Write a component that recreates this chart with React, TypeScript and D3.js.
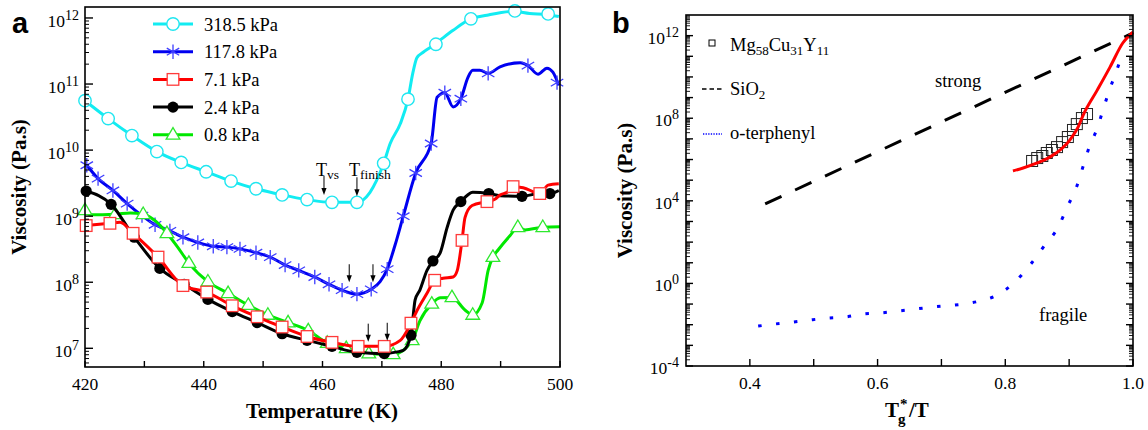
import React from 'react';
import * as d3 from 'd3';

type Pt = [number, number];

// ---------- Panel a : viscosity vs temperature (T in K, viscosity in Pa.s) ----------
const legendA = ['318.5 kPa', '117.8 kPa', '7.1 kPa', '2.4 kPa', '0.8 kPa'];

const cyanLine: Pt[] = [
  [420, 5.6e10], [423.9, 3.0e10], [427.9, 1.66e10], [432.1, 9.5e9], [436.2, 6.5e9], [440.4, 4.7e9],
  [444.6, 3.4e9], [448.8, 2.6e9], [453.2, 2.1e9], [457.4, 1.78e9], [461.6, 1.62e9], [465.8, 1.62e9],
  [468.0, 2.3e9], [470.3, 6.3e9], [471.4, 1.26e10], [473.1, 2.5e10], [474.4, 5.9e10], [475.2, 1.45e11],
  [475.9, 2.5e11], [476.9, 3.0e11], [478.6, 3.8e11], [480.3, 5.0e11], [482.0, 6.5e11], [484.8, 9.5e11],
  [487.7, 1.1e12], [492.1, 1.26e12], [494.9, 1.17e12], [498.0, 1.12e12], [499.8, 1.05e12],
];
const cyanMarks: Pt[] = [
  [420, 5.6e10], [423.9, 3.0e10], [427.9, 1.66e10], [432.1, 9.5e9], [436.2, 6.5e9], [440.4, 4.7e9],
  [444.6, 3.4e9], [448.8, 2.6e9], [453.2, 2.1e9], [457.4, 1.78e9], [461.6, 1.62e9], [465.8, 1.62e9],
  [470.3, 6.3e9], [474.4, 5.9e10], [479.1, 4.0e11], [485.0, 9.7e11], [492.4, 1.28e12], [498.0, 1.15e12],
];

const blueMarks: Pt[] = [
  [420.3, 5.9e9], [422.2, 3.7e9], [424.7, 2.45e9], [427.1, 1.55e9], [429.6, 1.02e9], [431.8, 7.4e8],
  [434.3, 6.0e8], [436.5, 4.8e8], [439.0, 4.0e8], [441.6, 3.5e8], [443.9, 3.4e8], [446.1, 3.2e8],
  [448.8, 2.8e8], [451.2, 2.4e8], [453.7, 1.82e8], [456.0, 1.51e8], [458.7, 1.2e8], [461.1, 9.3e7],
  [463.3, 7.6e7], [465.8, 6.6e7], [468.2, 7.8e7], [470.9, 1.58e8], [473.6, 1.0e9], [475.7, 4.5e9],
  [478.3, 1.26e10], [480.6, 7.4e10], [483.3, 6.0e10], [487.9, 1.45e11], [494.6, 1.9e11], [499.5, 1.05e11],
];
const blueLine: Pt[] = [
  [420.3, 5.9e9], [422.2, 3.7e9], [424.7, 2.45e9], [427.1, 1.55e9], [429.6, 1.02e9], [431.8, 7.4e8],
  [434.3, 6.0e8], [436.5, 4.8e8], [439.0, 4.0e8], [441.6, 3.5e8], [443.9, 3.4e8], [446.1, 3.2e8],
  [448.8, 2.8e8], [451.2, 2.4e8], [453.7, 1.82e8], [456.0, 1.51e8], [458.7, 1.2e8], [461.1, 9.3e7],
  [463.3, 7.6e7], [465.8, 6.6e7], [468.2, 7.8e7], [469.7, 1.02e8], [470.9, 1.58e8], [472.2, 3.6e8],
  [473.6, 1.0e9], [475.7, 4.5e9], [478.3, 1.26e10], [479.3, 6.3e10], [480.6, 7.4e10], [482.0, 4.5e10],
  [483.3, 6.0e10], [484.5, 1.26e11], [485.3, 1.62e11], [486.5, 1.62e11], [487.9, 1.45e11], [489.9, 1.82e11],
  [493.3, 2.1e11], [494.6, 1.9e11], [496.3, 1.41e11], [497.8, 1.74e11], [498.8, 1.51e11], [499.8, 9.5e10],
];

const redMarks: Pt[] = [
  [420.2, 7.2e8], [424.2, 7.8e8], [428.1, 5.5e8], [432.3, 2.4e8], [436.5, 8.9e7], [440.5, 7.1e7],
  [444.8, 4.4e7], [449.0, 3.0e7], [453.2, 2.1e7], [457.4, 1.51e7], [461.6, 1.23e7], [466.0, 1.07e7],
  [470.4, 1.07e7], [474.9, 2.4e7], [478.9, 1.07e8], [483.5, 4.3e8], [487.7, 1.66e9], [492.1, 2.8e9],
  [496.6, 2.2e9],
];
const redLine: Pt[] = [
  [420.2, 7.2e8], [424.2, 7.8e8], [425.9, 8.1e8], [428.1, 5.5e8], [432.3, 2.4e8], [436.5, 8.9e7],
  [440.5, 7.1e7], [444.8, 4.4e7], [449.0, 3.0e7], [453.2, 2.1e7], [457.4, 1.51e7], [461.6, 1.23e7],
  [466.0, 1.07e7], [470.4, 1.07e7], [473.1, 1.32e7], [474.9, 2.4e7], [475.9, 3.7e7], [477.6, 6.8e7],
  [478.9, 1.07e8], [480.3, 1.15e8], [482.0, 1.2e8], [482.7, 1.51e8], [483.5, 4.3e8], [484.0, 9.5e8],
  [485.2, 1.45e9], [487.7, 1.66e9], [489.1, 1.82e9], [489.9, 2.1e9], [491.1, 2.3e9], [492.1, 2.8e9],
  [493.8, 2.7e9], [496.6, 2.2e9], [498.0, 2.95e9], [499.8, 3.1e9],
];

const blackMarks: Pt[] = [
  [420.2, 2.4e9], [424.4, 1.51e9], [428.3, 4.8e8], [432.6, 1.62e8], [436.7, 9.3e7], [440.7, 5.5e7],
  [444.8, 3.6e7], [449.0, 2.45e7], [453.2, 1.66e7], [457.4, 1.32e7], [461.6, 1.07e7], [465.8, 8.7e6],
  [470.4, 8.3e6], [474.9, 1.58e7], [478.6, 2.1e8], [483.3, 1.66e9], [488.0, 2.2e9], [493.6, 2.0e9],
  [498.3, 2.2e9],
];
const blackLine: Pt[] = [
  [420.2, 2.4e9], [424.4, 1.51e9], [428.3, 4.8e8], [432.6, 1.62e8], [436.7, 9.3e7], [440.7, 5.5e7],
  [444.8, 3.6e7], [449.0, 2.45e7], [453.2, 1.66e7], [457.4, 1.32e7], [461.6, 1.07e7], [465.8, 8.7e6],
  [470.4, 8.3e6], [471.4, 8.5e6], [473.6, 9.3e6], [474.9, 1.58e7], [475.6, 5.4e7], [476.4, 7.6e7],
  [477.6, 1.51e8], [478.6, 2.1e8], [479.8, 2.75e8], [481.0, 6.8e8], [482.0, 1.23e9], [483.3, 1.66e9],
  [484.3, 2.04e9], [485.3, 2.3e9], [488.0, 2.2e9], [489.9, 2.04e9], [493.6, 2.0e9], [496.6, 2.2e9],
  [498.3, 2.2e9], [499.8, 2.45e9],
];

const greenMarks: Pt[] = [
  [420.0, 1.23e9], [425.1, 1.07e9], [429.8, 1.07e9], [433.8, 5.5e8], [437.5, 1.95e8], [440.7, 1.02e8],
  [444.1, 6.8e7], [447.5, 4.5e7], [450.8, 3.2e7], [454.2, 2.45e7], [457.6, 1.86e7], [460.8, 1.2e7],
  [464.0, 1.0e7], [467.8, 8.3e6], [471.9, 8.1e6], [475.1, 1.32e7], [478.4, 4.7e7], [481.8, 5.9e7],
  [485.3, 3.2e7], [488.7, 2.4e8], [492.9, 6.8e8], [497.1, 6.8e8],
];
const greenLine: Pt[] = [
  [420.0, 1.23e9], [420.8, 1.05e9], [425.1, 1.07e9], [427.6, 1.12e9], [429.8, 1.07e9], [432.1, 8.1e8],
  [433.8, 5.5e8], [435.6, 3.4e8], [437.5, 1.95e8], [440.7, 1.02e8], [444.1, 6.8e7], [447.5, 4.5e7],
  [450.8, 3.2e7], [454.2, 2.45e7], [457.6, 1.86e7], [460.8, 1.2e7], [464.0, 1.0e7], [467.8, 8.3e6],
  [471.9, 8.1e6], [475.1, 1.32e7], [476.4, 2.6e7], [478.4, 4.7e7], [479.8, 5.8e7], [481.8, 5.9e7],
  [484.0, 3.8e7], [485.3, 3.2e7], [486.9, 4.9e7], [487.9, 1.51e8], [488.7, 2.4e8], [489.6, 3.1e8],
  [491.6, 5.1e8], [492.9, 6.8e8], [494.1, 6.2e8], [497.1, 6.8e8], [500.0, 6.9e8],
];

const xTicksA = [420, 430, 440, 450, 460, 470, 480, 490, 500];
const xLabelsA = [420, 440, 460, 480, 500];
const yLabelsA = [7, 8, 9, 10, 11, 12];

// arrows: [T, viscosity at arrow tip]
const arrowsA: Pt[] = [
  [460.25, 2.1e9], [465.8, 2.0e9],
  [464.5, 1.0e8], [468.5, 1.0e8],
  [467.7, 1.26e7], [470.9, 1.3e7],
];

// ---------- Panel b : Angell plot ----------
const sio2Line: Pt[] = [[0.424, 7.1e3], [1.0, 1.35e12]];
const mgFit: Pt[] = [
  [0.812, 2.8e5], [0.828, 3.9e5], [0.85, 6.8e5], [0.87, 1.32e6], [0.901, 8.8e6], [0.914, 3.7e7],
  [0.922, 1.43e8], [0.944, 2.3e9], [0.964, 3.0e10], [0.984, 4.4e11], [1.0, 1.5e12],
];
const mgData: Pt[] = [
  [0.842, 8.5e5], [0.85, 1.18e6], [0.858, 1.48e6], [0.865, 2.07e6], [0.873, 2.9e6], [0.881, 4.0e6],
  [0.889, 7.0e6], [0.898, 1.23e7], [0.906, 2.7e7], [0.912, 5.2e7], [0.92, 1.02e8], [0.928, 1.6e8],
];
const oTerphenyl: Pt[] = [
  [0.413, 8.6e-3], [0.439, 1.08e-2], [0.468, 1.35e-2], [0.494, 1.69e-2], [0.522, 2.1e-2], [0.551, 2.4e-2],
  [0.577, 3.3e-2], [0.605, 3.7e-2], [0.632, 4.6e-2], [0.66, 5.8e-2], [0.687, 7.2e-2], [0.734, 0.1],
  [0.76, 0.14], [0.787, 0.27], [0.815, 1.17], [0.84, 8.7], [0.862, 72], [0.883, 540], [0.897, 5.0e3],
  [0.911, 4.2e4], [0.922, 4.8e5], [0.931, 3.6e6], [0.944, 3.3e7], [0.953, 2.5e8], [0.962, 1.86e9],
  [0.973, 1.55e10], [0.984, 1.44e11],
];
const xTicksB = [0.4, 0.5, 0.6, 0.7, 0.8, 0.9, 1.0];
const xLabelsB = ['0.4', '0.6', '0.8', '1.0'];
const yLabelsB = [-4, 0, 4, 8, 12];

// ---------- layout ----------
const W = 1148, H = 430;
const A = { left: 85, right: 560, top: 7, bottom: 367 };
const B = { left: 686, right: 1133, top: 15, bottom: 366 };
const SERIF = "'Liberation Serif', 'Times New Roman', 'DejaVu Serif', serif";
const SANS = "'Liberation Sans', Arial, 'DejaVu Sans', sans-serif";

const xA = d3.scaleLinear().domain([420, 500]).range([A.left, A.right]);
const yA = d3.scaleLog().domain([Math.pow(10, 6.717), Math.pow(10, 12.166)]).range([A.bottom, A.top]);
const xB = d3.scaleLinear().domain([0.3, 1.0]).range([B.left, B.right]);
const yB = d3.scaleLog().domain([1e-4, 1e13]).range([B.bottom, B.top]);

const C = { cyan: '#12ecf2', blue: '#0000f0', red: '#ff0000', black: '#000000', green: '#00e800' };

function lineA(data: Pt[]) {
  return d3.line<Pt>().x(d => xA(d[0])).y(d => yA(d[1])).curve(d3.curveMonotoneX)(data) || '';
}
function lineB(data: Pt[], curve: any = d3.curveMonotoneX) {
  return d3.line<Pt>().x(d => xB(d[0])).y(d => yB(d[1])).curve(curve)(data) || '';
}

type MarkKind = 'circle' | 'star' | 'square' | 'dot' | 'tri';
function Marker({ kind, x, y }: { kind: MarkKind; x: number; y: number }) {
  if (kind === 'circle') return <circle cx={x} cy={y} r={6.2} fill="#fff" stroke="#20e6f0" strokeWidth={1.4} />;
  if (kind === 'dot') return <circle cx={x} cy={y} r={5.6} fill="#000" />;
  if (kind === 'square') return <rect x={x - 5.8} y={y - 5.8} width={11.6} height={11.6} fill="#fff" stroke="#ff3a3a" strokeWidth={1.3} />;
  if (kind === 'tri') {
    const s = 7.2;
    return <path d={`M${x},${y - s}L${x + s * 0.95},${y + s * 0.6}L${x - s * 0.95},${y + s * 0.6}Z`} fill="#fff" stroke="#2ee82e" strokeWidth={1.3} />;
  }
  const r = 7.2;
  const c = Math.cos(Math.PI / 6) * r, s = Math.sin(Math.PI / 6) * r;
  return <path d={`M${x},${y - r}L${x},${y + r}M${x - c},${y - s}L${x + c},${y + s}M${x - c},${y + s}L${x + c},${y - s}`} stroke="#3d3dff" strokeWidth={1.3} fill="none" />;
}

const seriesA = [
  { name: legendA[0], line: cyanLine, marks: cyanMarks, color: C.cyan, kind: 'circle' as MarkKind },
  { name: legendA[1], line: blueLine, marks: blueMarks, color: C.blue, kind: 'star' as MarkKind },
  { name: legendA[2], line: redLine, marks: redMarks, color: C.red, kind: 'square' as MarkKind },
  { name: legendA[3], line: blackLine, marks: blackMarks, color: C.black, kind: 'dot' as MarkKind },
  { name: legendA[4], line: greenLine, marks: greenMarks, color: C.green, kind: 'tri' as MarkKind },
];
const drawOrder = [0, 1, 4, 3, 2];

function logTicks(lo: number, hi: number) {
  const major: number[] = [];
  const minor: number[] = [];
  for (let e = lo; e <= hi; e++) {
    major.push(Math.pow(10, e));
    for (let m = 2; m <= 9; m++) minor.push(m * Math.pow(10, e));
  }
  return { major, minor };
}

function Arrow({ x, yTip, len = 18 }: { x: number; yTip: number; len?: number }) {
  return (
    <g>
      <line x1={x} x2={x} y1={yTip - len} y2={yTip - 5} stroke="#000" strokeWidth={1} />
      <path d={`M${x - 2.6},${yTip - 7}L${x + 2.6},${yTip - 7}L${x},${yTip}Z`} fill="#000" />
    </g>
  );
}

const serifStyle = { fontFamily: SERIF };
const sansStyle = { fontFamily: SANS };
const TICK_FS = 17.5;
const EXP_FS = 14;
const TXT_FS = 18.5;
const AXIS_FS = 21;

export default function App() {
  const ytA = logTicks(6, 12);
  const ytB = logTicks(-4, 12);
  const inA = (v: number) => yA(v) <= A.bottom + 0.1 && yA(v) >= A.top - 0.1;
  const inB = (v: number) => yB(v) <= B.bottom + 0.1 && yB(v) >= B.top - 0.1;

  return (
    <svg width={W} height={H} style={{ position: 'absolute', left: 0, top: 0, background: '#fff', fontFamily: SERIF }}>
      {/* ================= Panel a ================= */}
      <text x={12} y={33} style={sansStyle} fontWeight="bold" fontSize={29}>a</text>

      {drawOrder.map(i => {
        const s = seriesA[i];
        return (
          <g key={s.name}>
            <path d={lineA(s.line)} fill="none" stroke={s.color} strokeWidth={3} strokeLinejoin="round" />
            {s.marks.map((d, j) => <Marker key={j} kind={s.kind} x={xA(d[0])} y={yA(d[1])} />)}
          </g>
        );
      })}

      {/* axes frame */}
      <rect x={A.left} y={A.top} width={A.right - A.left} height={A.bottom - A.top} fill="none" stroke="#000" strokeWidth={1.6} />
      {xTicksA.map(t => (
        <line key={t} x1={xA(t)} x2={xA(t)} y1={A.bottom} y2={A.bottom - 6} stroke="#000" strokeWidth={1.4} />
      ))}
      {xLabelsA.map(t => (
        <text key={t} x={xA(t)} y={390} style={serifStyle} fontSize={TICK_FS} textAnchor="middle">{t}</text>
      ))}
      {ytA.major.filter(inA).map(v => (
        <line key={'M' + v} x1={A.left} x2={A.left + 8} y1={yA(v)} y2={yA(v)} stroke="#000" strokeWidth={1.4} />
      ))}
      {ytA.minor.filter(inA).map(v => (
        <line key={'m' + v} x1={A.left} x2={A.left + 4} y1={yA(v)} y2={yA(v)} stroke="#000" strokeWidth={1} />
      ))}
      {yLabelsA.map(e => (
        <text key={e} x={79} y={yA(Math.pow(10, e)) + 9} style={serifStyle} fontSize={TICK_FS} textAnchor="end">
          10<tspan dy={-7} fontSize={EXP_FS}>{e}</tspan>
        </text>
      ))}
      <text x={322} y={418} style={serifStyle} fontSize={AXIS_FS} fontWeight="bold" textAnchor="middle">Temperature (K)</text>
      <text transform={`translate(26,${(A.top + A.bottom) / 2}) rotate(-90)`} style={serifStyle} fontSize={AXIS_FS} fontWeight="bold" textAnchor="middle">Viscosity (Pa.s)</text>

      {/* legend a */}
      {seriesA.map((s, i) => {
        const y = 24 + i * 27.7;
        return (
          <g key={'lg' + i}>
            <line x1={153} x2={193} y1={y} y2={y} stroke={s.color} strokeWidth={3} />
            <Marker kind={s.kind} x={173} y={y} />
            <text x={204} y={y + 6.5} style={serifStyle} fontSize={TXT_FS}>{s.name}</text>
          </g>
        );
      })}

      {/* annotations */}
      {arrowsA.map((d, i) => <Arrow key={i} x={xA(d[0])} yTip={yA(d[1])} len={i < 2 ? 19 : 18} />)}
      <text x={316} y={176} style={serifStyle} fontSize={18}>T<tspan fontSize={13.5} dy={3}>vs</tspan></text>
      <text x={349} y={176} style={serifStyle} fontSize={18}>T<tspan fontSize={13.5} dy={3}>finish</tspan></text>

      {/* ================= Panel b ================= */}
      <text x={612} y={33} style={sansStyle} fontWeight="bold" fontSize={29}>b</text>

      <path d={lineB(sio2Line, d3.curveLinear)} fill="none" stroke="#000" strokeWidth={3} strokeDasharray="18,15" />
      <path d={lineB(oTerphenyl)} fill="none" stroke="#0000ff" strokeWidth={3} strokeDasharray="3.5,14.5" />
      {mgData.map((d, i) => (
        <rect key={i} x={xB(d[0]) - 5.5} y={yB(d[1]) - 5.5} width={11} height={11} fill="none" stroke="#222" strokeWidth={1} />
      ))}
      <path d={lineB(mgFit)} fill="none" stroke="#ff0000" strokeWidth={3} />

      <rect x={B.left} y={B.top} width={B.right - B.left} height={B.bottom - B.top} fill="none" stroke="#000" strokeWidth={1.6} />
      {xTicksB.map(t => (
        <line key={t} x1={xB(t)} x2={xB(t)} y1={B.bottom} y2={B.bottom - 7} stroke="#000" strokeWidth={1.4} />
      ))}
      {xLabelsB.map(t => (
        <text key={t} x={xB(+t)} y={389} style={serifStyle} fontSize={TICK_FS} textAnchor="middle">{t}</text>
      ))}
      {ytB.major.filter(inB).map(v => (
        <g key={'M' + v}>
          <line x1={B.left} x2={B.left + 7} y1={yB(v)} y2={yB(v)} stroke="#000" strokeWidth={1.4} />
          <line x1={B.right} x2={B.right - 7} y1={yB(v)} y2={yB(v)} stroke="#000" strokeWidth={1.4} />
        </g>
      ))}
      {ytB.minor.filter(inB).map(v => (
        <g key={'m' + v}>
          <line x1={B.left} x2={B.left + 4} y1={yB(v)} y2={yB(v)} stroke="#000" strokeWidth={0.9} />
          <line x1={B.right} x2={B.right - 4} y1={yB(v)} y2={yB(v)} stroke="#000" strokeWidth={0.9} />
        </g>
      ))}
      {yLabelsB.map(e => (
        <text key={e} x={679} y={yB(Math.pow(10, e)) + 8} style={serifStyle} fontSize={TICK_FS} textAnchor="end">
          10<tspan dy={-7} fontSize={EXP_FS}>{e}</tspan>
        </text>
      ))}
      <text transform={`translate(632,${(B.top + B.bottom) / 2}) rotate(-90)`} style={serifStyle} fontSize={AXIS_FS} fontWeight="bold" textAnchor="middle">Viscosity (Pa.s)</text>
      <text x={885} y={417} style={serifStyle} fontSize={21} fontWeight="bold">T</text>
      <text x={898} y={424} style={serifStyle} fontSize={15} fontWeight="bold">g</text>
      <text x={900} y={409} style={serifStyle} fontSize={15} fontWeight="bold">*</text>
      <text x={909} y={417} style={serifStyle} fontSize={21} fontWeight="bold">/T</text>

      {/* legend b */}
      <rect x={709} y={40} width={6} height={6} fill="none" stroke="#000" strokeWidth={1} />
      <text x={730} y={51} style={serifStyle} fontSize={TXT_FS}>Mg<tspan fontSize={13} dy={4}>58</tspan><tspan dy={-4}>Cu</tspan><tspan fontSize={13} dy={4}>31</tspan><tspan dy={-4}>Y</tspan><tspan fontSize={13} dy={4}>11</tspan></text>
      <line x1={702} x2={723} y1={89} y2={89} stroke="#000" strokeWidth={1.3} strokeDasharray="4.5,3" />
      <text x={730} y={95} style={serifStyle} fontSize={TXT_FS}>SiO<tspan fontSize={13} dy={4}>2</tspan></text>
      <line x1={703} x2={722} y1={134} y2={134} stroke="#0000ff" strokeWidth={1.3} strokeDasharray="1.3,1.3" />
      <text x={730} y={139} style={serifStyle} fontSize={TXT_FS}>o-terphenyl</text>

      <text x={935} y={87} style={serifStyle} fontSize={TXT_FS}>strong</text>
      <text x={1039} y={321} style={serifStyle} fontSize={TXT_FS}>fragile</text>
    </svg>
  );
}
